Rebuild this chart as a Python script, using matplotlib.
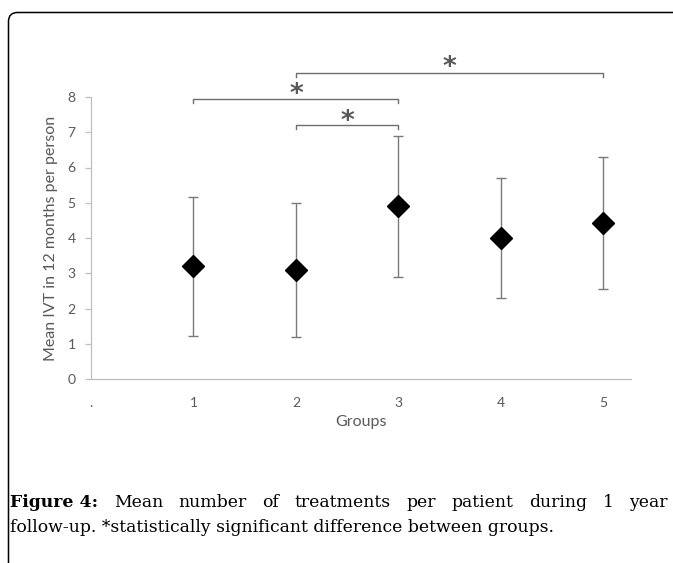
import matplotlib
matplotlib.use("Agg")
import matplotlib.pyplot as plt
from matplotlib.patches import FancyBboxPatch
import numpy as np

# ---- data ----
groups = [1, 2, 3, 4, 5]
means = [3.2, 3.1, 4.9, 4.0, 4.42]
sd = [1.97, 1.9, 2.0, 1.71, 1.87]
y_ticks = [0, 1, 2, 3, 4, 5, 6, 7, 8]
x_tick_labels = [".", "1", "2", "3", "4", "5"]
brackets = [(2, 3, 7.2), (1, 3, 7.93), (2, 5, 8.67)]   # (from group, to group, level)
star_x = [2.5, 2.0, 3.5]
star_y = [7.43, 8.2, 8.96]
ylabel = "Mean IVT in 12 months per person"
xlabel = "Groups"
cap_bold = "Figure 4:"
cap_line1 = "Mean number of treatments per patient during 1 year"
cap_line2 = "follow-up. *statistically significant difference between groups."

W, H = 673, 563
fig = plt.figure(figsize=(W / 100, H / 100), dpi=100)

# background overlay in pixel coordinates
bg = fig.add_axes([0, 0, 1, 1], zorder=0)
bg.set_xlim(0, W)
bg.set_ylim(H, 0)
bg.axis("off")
frame = FancyBboxPatch((8.5, 12.5), 720, 620,
                       boxstyle="round,pad=0,rounding_size=9",
                       fill=False, edgecolor="black", linewidth=1.1)
bg.add_patch(frame)

gray_txt = "#595959"
axis_col = "#bfbfbf"
sans = ["Lato", "DejaVu Sans"]

ax = fig.add_axes([91 / W, (H - 379) / H, (631 - 91) / W, (379 - 97) / H], zorder=1)
ax.patch.set_alpha(0)
ax.errorbar(groups, means, yerr=sd, fmt="none", ecolor="#7a7a7a",
            elinewidth=1.0, capsize=3.5, capthick=1.0, zorder=2)
ax.plot(groups, means, linestyle="none", marker="D", markersize=11,
        color="black", zorder=3)

ax.set_xlim(0, 5.27)
ax.set_ylim(0, 8)
ax.set_yticks(y_ticks)
ax.set_xticks(range(len(x_tick_labels)))
ax.set_xticklabels(x_tick_labels)
ax.get_xticklabels()[0].set_color("#f4b183")
for s in ["top", "right"]:
    ax.spines[s].set_visible(False)
for s in ["left", "bottom"]:
    ax.spines[s].set_color(axis_col)
    ax.spines[s].set_linewidth(0.9)
ax.tick_params(axis="y", length=4, color=axis_col, width=0.9,
               labelcolor=gray_txt, labelsize=10, pad=7)
ax.tick_params(axis="x", length=0, labelcolor=gray_txt, labelsize=10, pad=13)
for lab in ax.get_xticklabels() + ax.get_yticklabels():
    lab.set_family(sans)
ax.set_ylabel(ylabel, color=gray_txt, fontsize=11.5, family=sans, labelpad=7)
ax.set_xlabel(xlabel, color=gray_txt, fontsize=11.5, family=sans, labelpad=4)

# significance brackets
leg = 0.1
for (a, b, lvl) in brackets:
    ax.plot([a, a, b, b], [lvl - leg, lvl, lvl, lvl - leg], color="#6e6e6e",
            linewidth=1.0, clip_on=False, zorder=2)
for sx, sy in zip(star_x, star_y):
    ax.text(sx, sy - 0.13, "*", ha="center", va="center", fontsize=19,
            fontweight="bold", color=gray_txt, family=["DejaVu Sans"],
            clip_on=False)

# caption (justified first line)
serif = ["DejaVu Serif"]
fig.canvas.draw()
renderer = fig.canvas.get_renderer()

def width_px(txt, size, weight="normal"):
    t = bg.text(0, 0, txt, fontsize=size, family=serif, weight=weight)
    w = t.get_window_extent(renderer).width
    t.remove()
    return w

base = 12
w2 = width_px(cap_line2, base)
fs = base * (553 - 10) / w2
y1, y2 = 507, 532
left, right = 10, 668
words1 = [(cap_bold, "bold")] + [(w, "normal") for w in cap_line1.split()]
widths = [width_px(w, fs, wt) for w, wt in words1]
gap = (right - left - sum(widths)) / (len(words1) - 1)
x = left
for (w, wt), wd in zip(words1, widths):
    bg.text(x, y1, w, fontsize=fs, family=serif, weight=wt, ha="left",
            va="baseline", color="black")
    x += wd + gap
bg.text(left, y2, cap_line2, fontsize=fs, family=serif, ha="left",
        va="baseline", color="black")

fig.savefig("out.png", dpi=100)
